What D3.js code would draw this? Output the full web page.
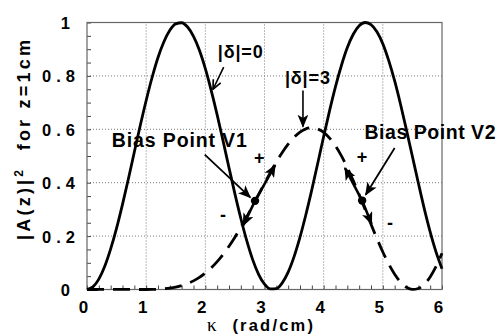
<!DOCTYPE html>
<html><head><meta charset="utf-8">
<script src="https://cdn.jsdelivr.net/npm/d3@7"></script>
<style>
body{margin:0;background:#fff;}
svg{display:block;}
text{font-family:"Liberation Sans",Arial,Helvetica,sans-serif;font-weight:bold;fill:#000;}
</style></head>
<body>
<svg id="chart" width="499" height="336"></svg>
<script>
// ---- data ----
const kappa = [0,0.1,0.2,0.3,0.4,0.5,0.6,0.7,0.8,0.9,1.0,1.1,1.2,1.3,1.4,1.5,1.6,1.7,1.8,1.9,2.0,2.1,2.2,2.3,2.4,2.5,2.6,2.7,2.8,2.9,3.0,3.1,3.2,3.3,3.4,3.5,3.6,3.7,3.8,3.9,4.0,4.1,4.2,4.3,4.4,4.5,4.6,4.7,4.8,4.9,5.0,5.1,5.2,5.3,5.4,5.5,5.6,5.7,5.8,5.9,6.0];
const delta0 = [0,0.010,0.039,0.087,0.152,0.230,0.319,0.415,0.515,0.614,0.708,0.794,0.869,0.928,0.971,0.995,0.999,0.983,0.948,0.896,0.827,0.745,0.654,0.556,0.456,0.358,0.266,0.183,0.112,0.057,0.020,0.002,0.003,0.025,0.065,0.123,0.196,0.281,0.374,0.473,0.573,0.670,0.760,0.839,0.906,0.956,0.988,1.000,0.992,0.965,0.920,0.857,0.781,0.693,0.597,0.498,0.399,0.303,0.216,0.140,0.078];
const delta3 = [0,0,0.0001,0.0002,0.0002,0.0003,0.0003,0.0002,0.0001,0,0,0.0003,0.0011,0.0026,0.0051,0.0089,0.0145,0.0221,0.0323,0.0454,0.0616,0.0813,0.1046,0.1315,0.1621,0.1959,0.2328,0.2722,0.3134,0.3553,0.3975,0.4386,0.4778,0.5134,0.5445,0.5703,0.5898,0.6018,0.6058,0.6010,0.5885,0.5670,0.5374,0.5003,0.4567,0.4078,0.3550,0.3000,0.2447,0.1910,0.1404,0.0953,0.0571,0.0279,0.0085,0.0003,0.0038,0.0194,0.0471,0.0862,0.1360];
const xTicks = [0,1,2,3,4,5,6];
const xTickLabels = ["0","1","2","3","4","5","6"];
const yTicks = [0,0.2,0.4,0.6,0.8,1];
const yTickLabels = ["0","0.2","0.4","0.6","0.8","1"];
const xTitle = "(rad/cm)";
const yTitleMain = "|A(z)|";
const yTitleRest = "  for z=1cm";
// bias points (kappa, value) and their +/- arrow tips
const biasPoints = [
  {name:"Bias Point V1", k:2.84, v:0.332, plus:[3.18,0.466], minus:[2.64,0.24], from:[1.99,0.505], to:[2.76,0.345],
   label:[0.42,0.534], width:135, plusLbl:[2.91,0.47], minusLbl:[2.30,0.255]},
  {name:"Bias Point V2", k:4.65, v:0.333, plus:[4.36,0.455], minus:[4.81,0.245], from:[5.20,0.53], to:[4.71,0.355],
   label:[4.69,0.564], width:131, plusLbl:[4.65,0.475], minusLbl:[5.12,0.225]}
];
const curveLabels = [
  {text:"|δ|=0", at:[2.21,0.866], from:[2.31,0.833], to:[2.13,0.75]},
  {text:"|δ|=3", at:[3.345,0.77], from:[3.65,0.745], to:[3.65,0.61]}
];

// ---- drawing ----
const svg = d3.select("#chart");
const x = d3.scaleLinear().domain([0,6]).range([87,442]);
const y = d3.scaleLinear().domain([0,1]).range([289.5,22.5]);

const defs = svg.append("defs");
defs.append("marker").attr("id","head").attr("viewBox","0 0 12 10")
  .attr("refX",11).attr("refY",5).attr("markerWidth",13).attr("markerHeight",11)
  .attr("markerUnits","userSpaceOnUse").attr("orient","auto")
  .append("path").attr("d","M0,0 L12,5 L0,10 L3,5 Z").attr("fill","#000");
defs.append("marker").attr("id","vhead").attr("viewBox","0 0 12 10")
  .attr("refX",11).attr("refY",5).attr("markerWidth",11).attr("markerHeight",10)
  .attr("markerUnits","userSpaceOnUse").attr("orient","auto")
  .append("path").attr("d","M1,0.5 L11,5 L1,9.5").attr("fill","none").attr("stroke","#000").attr("stroke-width",1.8);

// grid
const grid = svg.append("g").attr("class","grid");
grid.selectAll("line.gx").data(xTicks.slice(1,-1)).join("line")
  .attr("x1",d=>x(d)).attr("x2",d=>x(d)).attr("y1",y(0)).attr("y2",y(1))
  .attr("stroke","#777").attr("stroke-width",1).attr("stroke-dasharray","1,2");
grid.selectAll("line.gy").data(yTicks.slice(1,-1)).join("line")
  .attr("y1",d=>y(d)).attr("y2",d=>y(d)).attr("x1",x(0)).attr("x2",x(6))
  .attr("stroke","#777").attr("stroke-width",1).attr("stroke-dasharray","1,2");

// minor ticks (inside)
const yMinor = svg.append("g").attr("transform",`translate(${x(0)},0)`)
  .call(d3.axisLeft(y).tickValues(d3.range(0,1.0001,0.05)).tickSize(-4).tickFormat(""));
yMinor.select(".domain").remove();
yMinor.selectAll("line").attr("stroke","#444");
const xMinor = svg.append("g").attr("transform",`translate(0,${y(0)})`)
  .call(d3.axisBottom(x).tickValues(d3.range(0,6.0001,0.2)).tickSize(-4).tickFormat(""));
xMinor.select(".domain").remove();
xMinor.selectAll("line").attr("stroke","#444");

// frame
svg.append("rect").attr("x",x(0)).attr("y",y(1)).attr("width",x(6)-x(0)).attr("height",y(0)-y(1))
  .attr("fill","none").attr("stroke","#666").attr("stroke-width",1.2);

// tick labels
const yAx = svg.append("g").attr("transform",`translate(${x(0)},0)`)
  .call(d3.axisLeft(y).tickValues(yTicks).tickSize(0).tickPadding(12).tickFormat((d,i)=>yTickLabels[i]));
yAx.select(".domain").remove();
yAx.selectAll("text").style("font-size","16.5px").style("font-family","'Liberation Sans',Arial,sans-serif").style("font-weight","bold")
  .attr("dy","0.36em")
  .each(function(d,i){ const t=d3.select(this); if(yTickLabels[i].length>1){ t.attr("textLength",33).attr("lengthAdjust","spacing"); } else { t.attr("dx",-5); } });
const xAx = svg.append("g").attr("transform",`translate(0,${y(0)})`)
  .call(d3.axisBottom(x).tickValues(xTicks).tickSize(0).tickPadding(0).tickFormat((d,i)=>xTickLabels[i]));
xAx.select(".domain").remove();
xAx.selectAll("text").style("font-size","17px").style("font-family","'Liberation Sans',Arial,sans-serif").style("font-weight","bold")
  .attr("dx",-4).attr("dy",0).attr("y",23);

// axis titles
const xt = svg.append("text").attr("x",260).attr("y",331).attr("text-anchor","middle").style("font-size","16.5px").style("white-space","pre")
  .attr("textLength",106).attr("lengthAdjust","spacing");
xt.append("tspan").style("font-family","'Liberation Serif','DejaVu Serif',serif").style("font-weight","normal").style("font-size","19px").text("κ");
xt.append("tspan").text("  "+xTitle);
const yt = svg.append("text").attr("transform","translate(30,140) rotate(-90)").attr("text-anchor","middle")
  .style("font-size","18px").style("white-space","pre").attr("textLength",200).attr("lengthAdjust","spacing");
yt.append("tspan").text(yTitleMain);
yt.append("tspan").attr("dy",-7).style("font-size","12px").text("2");
yt.append("tspan").attr("dy",7).text(yTitleRest);

// curves
const line = d3.line().x((d,i)=>x(kappa[i])).y(d=>y(d)).curve(d3.curveMonotoneX);
svg.append("path").datum(delta3).attr("d",line).attr("fill","none").attr("stroke","#000")
  .attr("stroke-width",2.8).attr("stroke-dasharray","17,9");
svg.append("path").datum(delta0).attr("d",line).attr("fill","none").attr("stroke","#000")
  .attr("stroke-width",2.8);

// curve labels
curveLabels.forEach(c=>{
  svg.append("text").attr("x",x(c.at[0])).attr("y",y(c.at[1])).style("font-size","18px")
    .attr("textLength",45).attr("lengthAdjust","spacing").text(c.text);
  svg.append("line").attr("x1",x(c.from[0])).attr("y1",y(c.from[1])).attr("x2",x(c.to[0])).attr("y2",y(c.to[1]))
    .attr("stroke","#000").attr("stroke-width",1.6).attr("marker-end", c.text.endsWith("0") ? "url(#vhead)" : "url(#head)");
});

// bias points
biasPoints.forEach(b=>{
  svg.append("text").attr("x",x(b.label[0])).attr("y",y(b.label[1])).style("font-size","19.5px")
    .attr("textLength",b.width).attr("lengthAdjust","spacing").text(b.name);
  svg.append("line").attr("x1",x(b.from[0])).attr("y1",y(b.from[1])).attr("x2",x(b.to[0])).attr("y2",y(b.to[1]))
    .attr("stroke","#000").attr("stroke-width",1.8).attr("marker-end","url(#head)");
  [b.plus,b.minus].forEach(t=>{
    svg.append("line").attr("x1",x(b.k)).attr("y1",y(b.v)).attr("x2",x(t[0])).attr("y2",y(t[1]))
      .attr("stroke","#000").attr("stroke-width",2.6).attr("marker-end","url(#head)");
  });
  svg.append("circle").attr("cx",x(b.k)).attr("cy",y(b.v)).attr("r",4.2).attr("fill","#000");
  svg.append("text").attr("x",x(b.plusLbl[0])).attr("y",y(b.plusLbl[1])).attr("text-anchor","middle").style("font-size","18px").text("+");
  svg.append("text").attr("x",x(b.minusLbl[0])).attr("y",y(b.minusLbl[1])).attr("text-anchor","middle").style("font-size","18px").text("-");
});
</script>
</body></html>
